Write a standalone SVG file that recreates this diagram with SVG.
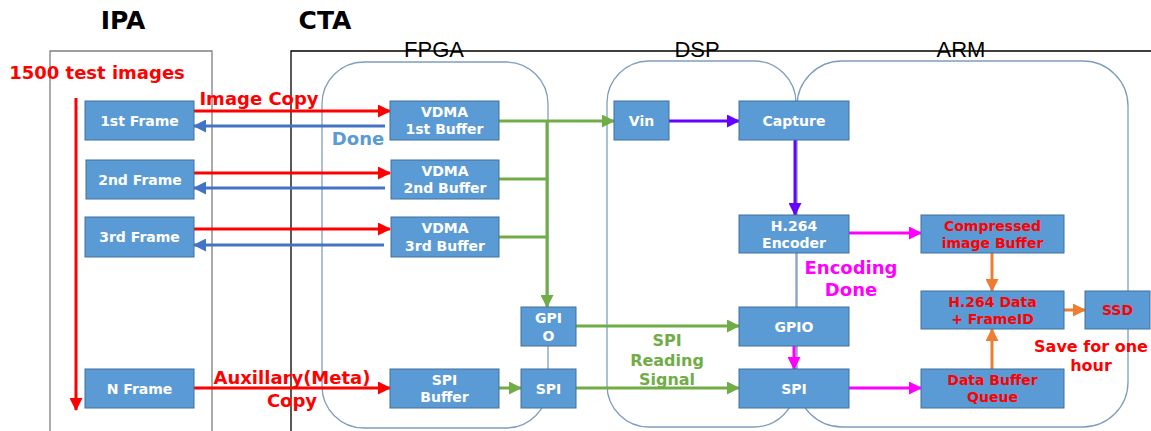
<svg xmlns="http://www.w3.org/2000/svg" width="1151" height="431" viewBox="0 0 1151 431">
<style>
.node rect{fill:#5B9BD5;stroke:#41719C;stroke-width:1}
.nt{font-family:"DejaVu Sans",Verdana,sans-serif;font-weight:bold;font-size:14px;fill:#FFFFFF;text-anchor:middle}
.nr{fill:#FF0000}
.cont{fill:none;stroke:#7F9DBF;stroke-width:1.3}
.title{font-family:"DejaVu Sans",Verdana,sans-serif;font-weight:bold;font-size:25px;fill:#000}
.sub{font-family:"Liberation Sans",Arial,sans-serif;font-size:22px;fill:#000;text-anchor:middle}
.lbl{font-family:"DejaVu Sans",Verdana,sans-serif;font-weight:bold;font-size:18px;text-anchor:middle}
.sm{font-size:16px}
.c{fill:none;stroke-width:3}
</style>
<defs>
<marker id="aR" markerUnits="userSpaceOnUse" markerWidth="13" markerHeight="13" refX="12" refY="6.5" orient="auto"><path d="M0,0 L13,6.5 L0,13 Z" fill="#FF0000"/></marker>
<marker id="aB" markerUnits="userSpaceOnUse" markerWidth="13" markerHeight="13" refX="12" refY="6.5" orient="auto"><path d="M0,0 L13,6.5 L0,13 Z" fill="#4472C4"/></marker>
<marker id="aG" markerUnits="userSpaceOnUse" markerWidth="13" markerHeight="13" refX="12" refY="6.5" orient="auto"><path d="M0,0 L13,6.5 L0,13 Z" fill="#70AD47"/></marker>
<marker id="aP" markerUnits="userSpaceOnUse" markerWidth="13" markerHeight="13" refX="12" refY="6.5" orient="auto"><path d="M0,0 L13,6.5 L0,13 Z" fill="#6600FF"/></marker>
<marker id="aM" markerUnits="userSpaceOnUse" markerWidth="13" markerHeight="13" refX="12" refY="6.5" orient="auto"><path d="M0,0 L13,6.5 L0,13 Z" fill="#FF00FF"/></marker>
<marker id="aO" markerUnits="userSpaceOnUse" markerWidth="13" markerHeight="13" refX="12" refY="6.5" orient="auto"><path d="M0,0 L13,6.5 L0,13 Z" fill="#ED7D31"/></marker>
</defs>
<rect width="1151" height="431" fill="#FFFFFF"/>

<g id="frames">
<path d="M50,431 V51 H212 V431" fill="none" stroke="#7F7F7F" stroke-width="1.3"/>
<path d="M291,431 V51 H1151" fill="none" stroke="#000" stroke-width="1.3"/>
<rect class="cont" x="322" y="62" width="226" height="366" rx="42"/>
<rect class="cont" x="607" y="61" width="189" height="366" rx="42"/>
<rect class="cont" x="797" y="61" width="331" height="366" rx="45"/>
<text class="title" x="123" y="29" text-anchor="middle">IPA</text>
<text class="title" x="325" y="29" text-anchor="middle">CTA</text>
<text class="sub" x="434" y="57">FPGA</text>
<text class="sub" x="697" y="57">DSP</text>
<text class="sub" x="961" y="57">ARM</text>
</g>

<g id="connectors">
<line class="c" x1="76" y1="98" x2="76" y2="410" stroke="#FF0000" marker-end="url(#aR)"/>
<line class="c" x1="194" y1="111" x2="390" y2="111" stroke="#FF0000" marker-end="url(#aR)"/>
<line class="c" x1="190" y1="173" x2="390" y2="173" stroke="#FF0000" marker-end="url(#aR)"/>
<line class="c" x1="190" y1="229" x2="390" y2="229" stroke="#FF0000" marker-end="url(#aR)"/>
<line class="c" x1="194" y1="388" x2="390" y2="388" stroke="#FF0000" marker-end="url(#aR)"/>
<line class="c" x1="385" y1="126" x2="194" y2="126" stroke="#4472C4" marker-end="url(#aB)"/>
<line class="c" x1="385" y1="188" x2="194" y2="188" stroke="#4472C4" marker-end="url(#aB)"/>
<line class="c" x1="384" y1="245" x2="194" y2="245" stroke="#4472C4" marker-end="url(#aB)"/>
<line class="c" x1="499" y1="121" x2="614" y2="121" stroke="#70AD47" marker-end="url(#aG)"/>
<line class="c" x1="547" y1="121" x2="547" y2="307" stroke="#70AD47" marker-end="url(#aG)"/>
<line class="c" x1="499" y1="179" x2="548" y2="179" stroke="#70AD47"/>
<line class="c" x1="499" y1="237" x2="548" y2="237" stroke="#70AD47"/>
<line class="c" x1="576" y1="326" x2="739" y2="326" stroke="#70AD47" marker-end="url(#aG)"/>
<line class="c" x1="499" y1="388" x2="521" y2="388" stroke="#70AD47" marker-end="url(#aG)"/>
<line class="c" x1="576" y1="388" x2="739" y2="388" stroke="#70AD47" marker-end="url(#aG)"/>
<line class="c" x1="669" y1="121" x2="739" y2="121" stroke="#6600FF" marker-end="url(#aP)"/>
<line class="c" x1="795" y1="140" x2="795" y2="215" stroke="#6600FF" marker-end="url(#aP)"/>
<line class="c" x1="849" y1="233" x2="921" y2="233" stroke="#FF00FF" marker-end="url(#aM)"/>
<line class="c" x1="794" y1="346" x2="794" y2="369" stroke="#FF00FF" marker-end="url(#aM)"/>
<line class="c" x1="849" y1="388" x2="921" y2="388" stroke="#FF00FF" marker-end="url(#aM)"/>
<line class="c" x1="992" y1="253" x2="992" y2="291" stroke="#ED7D31" marker-end="url(#aO)"/>
<line class="c" x1="992" y1="369" x2="992" y2="329" stroke="#ED7D31" marker-end="url(#aO)"/>
<line class="c" x1="1064" y1="310" x2="1085" y2="310" stroke="#ED7D31" marker-end="url(#aO)"/>
<text class="lbl" x="259" y="105" fill="#FF0000">Image Copy</text>
<text class="lbl" x="358" y="145" fill="#5B9BD5">Done</text>
<text class="lbl" x="292" y="384" fill="#FF0000">Auxillary(Meta)</text>
<text class="lbl" x="292" y="407" fill="#FF0000">Copy</text>
<text class="lbl sm" x="667" y="346" fill="#70AD47">SPI</text>
<text class="lbl sm" x="667" y="366" fill="#70AD47">Reading</text>
<text class="lbl sm" x="667" y="385" fill="#70AD47">Signal</text>
<text class="lbl" x="851" y="274" fill="#FF00FF">Encoding</text>
<text class="lbl" x="851" y="296" fill="#FF00FF">Done</text>
<text class="lbl sm" x="1091" y="352" fill="#FF0000">Save for one</text>
<text class="lbl sm" x="1091" y="371" fill="#FF0000">hour</text>
<text class="lbl" x="97" y="79" fill="#FF0000">1500 test images</text>
</g>

<g id="n-frame1" class="node"><rect x="85" y="101" width="109" height="39"/><text class="nt" x="139.5" y="126">1st Frame</text></g>
<g id="n-frame2" class="node"><rect x="86" y="160" width="108" height="39"/><text class="nt" x="140" y="185">2nd Frame</text></g>
<g id="n-frame3" class="node"><rect x="85" y="217" width="109" height="40"/><text class="nt" x="139.5" y="242">3rd Frame</text></g>
<g id="n-frameN" class="node"><rect x="85" y="369" width="109" height="39"/><text class="nt" x="139.5" y="394">N Frame</text></g>
<g id="n-vdma1" class="node"><rect x="390" y="101" width="109" height="39"/><text class="nt" x="444.5" y="117">VDMA</text><text class="nt" x="444.5" y="134">1st Buffer</text></g>
<g id="n-vdma2" class="node"><rect x="391" y="160" width="108" height="39"/><text class="nt" x="445" y="176">VDMA</text><text class="nt" x="445" y="193">2nd Buffer</text></g>
<g id="n-vdma3" class="node"><rect x="391" y="217" width="108" height="40"/><text class="nt" x="445" y="233">VDMA</text><text class="nt" x="445" y="251">3rd Buffer</text></g>
<g id="n-spibuf" class="node"><rect x="390" y="369" width="109" height="39"/><text class="nt" x="444.5" y="385">SPI</text><text class="nt" x="444.5" y="402">Buffer</text></g>
<g id="n-gpio-f" class="node"><rect x="521" y="307" width="55" height="39"/><text class="nt" x="548.5" y="323">GPI</text><text class="nt" x="548.5" y="341">O</text></g>
<g id="n-spi-f" class="node"><rect x="521" y="369" width="55" height="39"/><text class="nt" x="548.5" y="394">SPI</text></g>
<g id="n-vin" class="node"><rect x="614" y="101" width="55" height="39"/><text class="nt" x="641.5" y="126">Vin</text></g>
<g id="n-capture" class="node"><rect x="739" y="101" width="110" height="39"/><text class="nt" x="794" y="126">Capture</text></g>
<g id="n-h264" class="node"><rect x="739" y="215" width="110" height="38"/><text class="nt" x="794" y="231">H.264</text><text class="nt" x="794" y="248">Encoder</text></g>
<g id="n-gpio-d" class="node"><rect x="739" y="307" width="110" height="39"/><text class="nt" x="794" y="332">GPIO</text></g>
<g id="n-spi-d" class="node"><rect x="739" y="369" width="110" height="39"/><text class="nt" x="794" y="394">SPI</text></g>
<g id="n-compbuf" class="node"><rect x="921" y="215" width="143" height="38"/><text class="nt nr" x="992.5" y="231">Compressed</text><text class="nt nr" x="992.5" y="248">image Buffer</text></g>
<g id="n-h264data" class="node"><rect x="921" y="291" width="143" height="38"/><text class="nt nr" x="992.5" y="307">H.264 Data</text><text class="nt nr" x="992.5" y="324">+ FrameID</text></g>
<g id="n-dataq" class="node"><rect x="921" y="369" width="143" height="39"/><text class="nt nr" x="992.5" y="385">Data Buffer</text><text class="nt nr" x="992.5" y="402">Queue</text></g>
<g id="n-ssd" class="node"><rect x="1085" y="291" width="65" height="38"/><text class="nt nr" x="1117.5" y="315">SSD</text></g>
</svg>
